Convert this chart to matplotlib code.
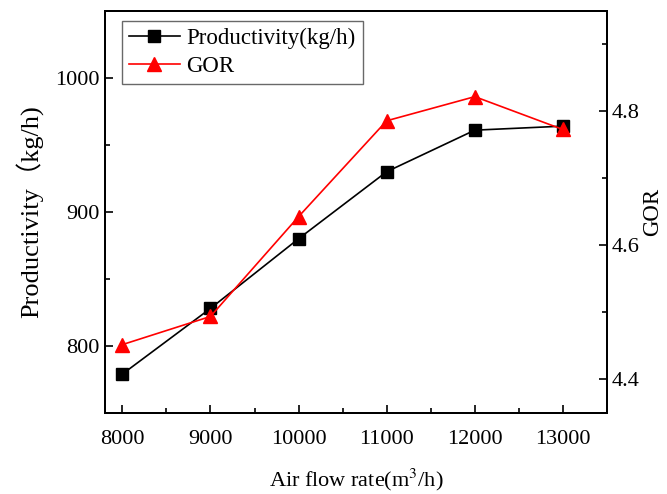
import matplotlib
matplotlib.use('Agg')
import matplotlib.pyplot as plt
from matplotlib.ticker import MultipleLocator

plt.rcParams['font.family'] = ['Liberation Serif', 'Noto Sans CJK SC']
plt.rcParams['mathtext.fontset'] = 'stix'

# data
air_flow = [8000, 9000, 10000, 11000, 12000, 13000]
productivity = [779, 828, 880, 930, 961, 964]
gor = [4.452, 4.494, 4.643, 4.786, 4.822, 4.773]

fig = plt.figure(figsize=(6.67, 4.94), dpi=100)
ax = fig.add_axes([0.157, 0.164, 0.753, 0.814])
ax2 = ax.twinx()

l1, = ax.plot(air_flow, productivity, color='black', lw=1.2, marker='s',
              markersize=8.5, label='Productivity(kg/h)')
l2, = ax2.plot(air_flow, gor, color='red', lw=1.2, marker='^',
               markersize=10, label='GOR')

ax.set_xlim(7800, 13500)
ax.set_ylim(750, 1050)
ax2.set_ylim(4.35, 4.95)

ax.xaxis.set_major_locator(MultipleLocator(1000))
ax.xaxis.set_minor_locator(MultipleLocator(500))
ax.yaxis.set_major_locator(MultipleLocator(100))
ax.yaxis.set_minor_locator(MultipleLocator(50))
ax2.yaxis.set_major_locator(MultipleLocator(0.2))
ax2.yaxis.set_minor_locator(MultipleLocator(0.1))

for a in (ax, ax2):
    a.tick_params(which='both', direction='in', labelsize=16, width=1.2)
    a.tick_params(which='major', length=6)
    a.tick_params(which='minor', length=3.5)
    for s in a.spines.values():
        s.set_linewidth(1.4)
ax.tick_params(axis='x', pad=12)

ax.set_xlabel('Air flow rate(m$^3$/h)', fontsize=16, labelpad=13)
ax.set_ylabel('Productivity（kg/h)', fontsize=19, labelpad=8)
ax2.set_ylabel('GOR', fontsize=16.5, labelpad=2)

leg = ax2.legend(handles=[l1, l2], loc='upper left', fontsize=16.5,
                 bbox_to_anchor=(0.035, 0.975),
                 frameon=True, fancybox=False, edgecolor='#444444',
                 borderaxespad=0.0, handlelength=2.2, labelspacing=0.3,
                 borderpad=0.3, handletextpad=0.3)
leg.get_frame().set_linewidth(1.0)

fig.savefig('out.png', dpi=100)
